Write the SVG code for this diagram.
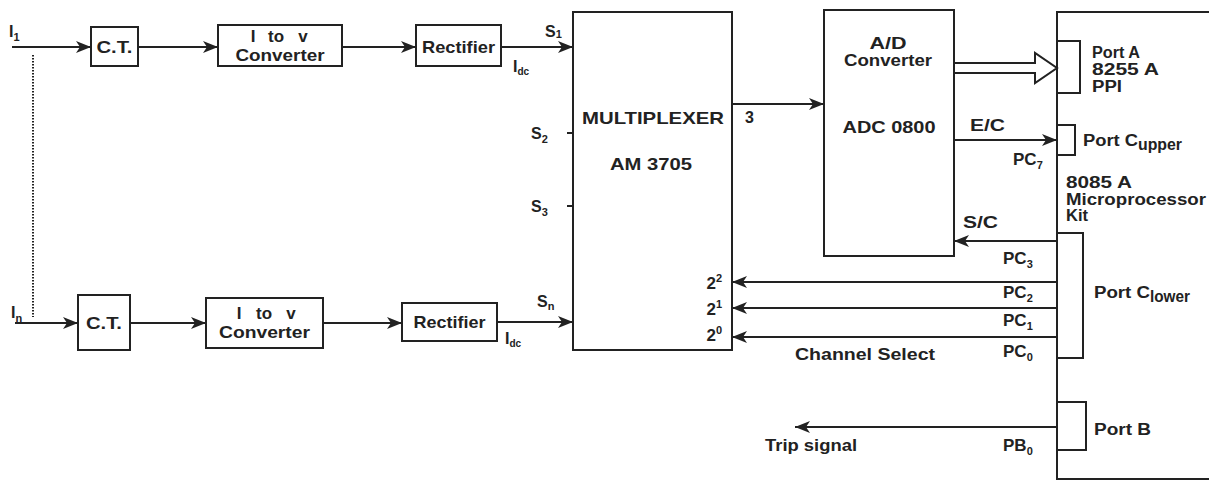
<svg xmlns="http://www.w3.org/2000/svg" width="1209" height="482" viewBox="0 0 1209 482">
<style>
.box{fill:none;stroke:#222;stroke-width:2}
.ln{fill:none;stroke:#222;stroke-width:2}
.arr{marker-end:url(#ah)}
text{font-family:"Liberation Sans",Arial,sans-serif;font-weight:bold;font-size:16px;fill:#222}
.c{text-anchor:middle}
.e{text-anchor:end}
.b{font-size:17px}
.s{font-size:11px}
</style>
<defs>
<marker id="ah" markerUnits="userSpaceOnUse" markerWidth="16" markerHeight="12" refX="15" refY="6" orient="auto">
<path d="M0,0 L15,6 L0,12 L4,6 Z" fill="#222"/>
</marker>
</defs>
<rect width="1209" height="482" fill="#fff"/>

<g id="connectors">
<path class="ln arr" d="M12,47 H91"/>
<path class="ln arr" d="M138,47 H218"/>
<path class="ln arr" d="M342,47 H416"/>
<path class="ln arr" d="M501,47 H573"/>
<path class="ln" d="M33,55 V317" stroke-dasharray="1.5 1.5" stroke="#444"/>
<path class="ln arr" d="M15,323 H78"/>
<path class="ln arr" d="M130,323 H206"/>
<path class="ln arr" d="M323,323 H402"/>
<path class="ln arr" d="M497,322 H573"/>
<path class="ln" d="M567,133 H573 M567,206 H573"/>
<path class="ln arr" d="M732,104 H824"/>
<path class="ln" d="M954,63 H1035 V53 L1057,68 L1035,83 V73 H954" fill="#fff"/>
<path class="ln arr" d="M954,140 H1057"/>
<path class="ln arr" d="M1057,241 H954"/>
<path class="ln arr" d="M1058,282 H732"/>
<path class="ln arr" d="M1058,308 H732"/>
<path class="ln arr" d="M1058,337 H732"/>
<path class="ln arr" d="M1058,427 H795"/>
</g>

<g id="ct1"><rect class="box" x="91" y="27" width="47" height="39"/><text class="c b" x="114.5" y="53" textLength="36" lengthAdjust="spacingAndGlyphs">C.T.</text></g>
<g id="itov1"><rect class="box" x="218" y="25" width="124" height="41"/><text class="c b" y="42"><tspan x="253">I</tspan><tspan x="276">to</tspan><tspan x="303">v</tspan></text><text class="c b" x="280" y="61" textLength="89" lengthAdjust="spacingAndGlyphs">Converter</text></g>
<g id="rect1"><rect class="box" x="416" y="25" width="85" height="41"/><text class="c b" x="458.5" y="53" textLength="73" lengthAdjust="spacingAndGlyphs">Rectifier</text></g>

<g id="ct2"><rect class="box" x="78" y="295" width="52" height="55"/><text class="c b" x="104" y="329" textLength="36" lengthAdjust="spacingAndGlyphs">C.T.</text></g>
<g id="itov2"><rect class="box" x="206" y="298" width="117" height="50"/><text class="c b" y="319"><tspan x="239">I</tspan><tspan x="264">to</tspan><tspan x="291">v</tspan></text><text class="c b" x="264.5" y="338" textLength="91" lengthAdjust="spacingAndGlyphs">Converter</text></g>
<g id="rect2"><rect class="box" x="402" y="303" width="95" height="38"/><text class="c b" x="449.5" y="328" textLength="72" lengthAdjust="spacingAndGlyphs">Rectifier</text></g>

<g id="inputs">
<text x="9" y="37">I<tspan class="s" dy="4">1</tspan></text>
<text x="11" y="318">I<tspan class="s" dy="4">n</tspan></text>
<text x="545" y="37">S<tspan class="s" dy="1">1</tspan></text>
<text x="531" y="139">S<tspan class="s" dy="4">2</tspan></text>
<text x="531" y="212">S<tspan class="s" dy="4">3</tspan></text>
<text x="537" y="307">S<tspan class="s" dy="3">n</tspan></text>
<text x="513" y="72" font-size="14">I<tspan font-size="10" dy="3">dc</tspan></text>
<text x="505" y="344" font-size="14">I<tspan font-size="10" dy="3">dc</tspan></text>
</g>

<g id="mux">
<rect class="box" x="573" y="12" width="159" height="338"/>
<text class="c b" x="653" y="124" textLength="142" lengthAdjust="spacingAndGlyphs">MULTIPLEXER</text>
<text class="c b" x="651" y="170" textLength="82" lengthAdjust="spacingAndGlyphs">AM 3705</text>
<text x="745" y="123">3</text>
<text class="e b" x="722" y="289">2<tspan class="s" dy="-7">2</tspan></text>
<text class="e b" x="722" y="315">2<tspan class="s" dy="-7">1</tspan></text>
<text class="e b" x="722" y="341">2<tspan class="s" dy="-7">0</tspan></text>
</g>

<g id="adc">
<rect class="box" x="824" y="10" width="130" height="246"/>
<text class="c" x="888" y="49" textLength="37" lengthAdjust="spacingAndGlyphs">A/D</text>
<text class="c" x="888" y="66" textLength="88" lengthAdjust="spacingAndGlyphs">Converter</text>
<text class="c" x="889" y="133" textLength="93" lengthAdjust="spacingAndGlyphs">ADC 0800</text>
<text x="970" y="131" textLength="35" lengthAdjust="spacingAndGlyphs">E/C</text>
<text x="963" y="228" textLength="35" lengthAdjust="spacingAndGlyphs">S/C</text>
</g>

<g id="kit">
<rect class="box" x="1057" y="12" width="170" height="467"/>
<path class="ln" d="M1057,41 H1080 V93 H1057"/>
<path class="ln" d="M1057,125 H1075 V155 H1057"/>
<path class="ln" d="M1058,233 H1083 V358 H1058"/>
<path class="ln" d="M1058,402 H1086 V450 H1058"/>
<text x="1092" y="58" textLength="48" lengthAdjust="spacingAndGlyphs">Port A</text>
<text x="1092" y="75" textLength="67" lengthAdjust="spacingAndGlyphs">8255 A</text>
<text x="1092" y="92" textLength="30" lengthAdjust="spacingAndGlyphs">PPI</text>
<text x="1083" y="146" textLength="55" lengthAdjust="spacingAndGlyphs">Port C</text>
<text x="1138" y="150" font-size="11" textLength="44" lengthAdjust="spacingAndGlyphs">upper</text>
<text x="1066" y="188" textLength="66" lengthAdjust="spacingAndGlyphs">8085 A</text>
<text x="1066" y="205" textLength="140" lengthAdjust="spacingAndGlyphs">Microprocessor</text>
<text x="1066" y="221" textLength="22" lengthAdjust="spacingAndGlyphs">Kit</text>
<text x="1094" y="298" textLength="56" lengthAdjust="spacingAndGlyphs">Port C</text>
<text x="1150" y="302" font-size="11" textLength="40" lengthAdjust="spacingAndGlyphs">lower</text>
<text x="1094" y="435" textLength="57" lengthAdjust="spacingAndGlyphs">Port B</text>
<text class="b" x="1013" y="165">PC<tspan class="s" dy="4">7</tspan></text>
<text class="b" x="1003" y="264">PC<tspan class="s" dy="4">3</tspan></text>
<text class="b" x="1003" y="298">PC<tspan class="s" dy="4">2</tspan></text>
<text class="b" x="1003" y="326">PC<tspan class="s" dy="4">1</tspan></text>
<text class="b" x="1003" y="357">PC<tspan class="s" dy="4">0</tspan></text>
<text class="b" x="1003" y="451">PB<tspan class="s" dy="4">0</tspan></text>
</g>

<g id="labels">
<text class="c" x="865" y="360" textLength="140" lengthAdjust="spacingAndGlyphs">Channel Select</text>
<text class="c" x="811" y="451" textLength="92" lengthAdjust="spacingAndGlyphs">Trip signal</text>
</g>
</svg>
